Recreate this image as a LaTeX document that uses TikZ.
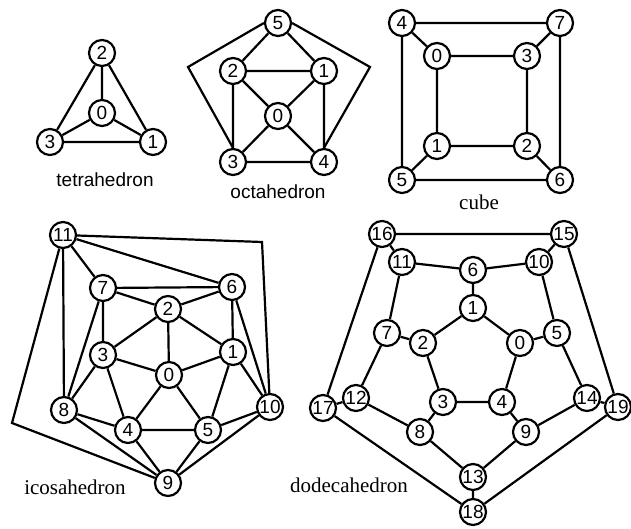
\documentclass[tikz,border=0pt]{standalone}
\usepackage{fontspec}
\setmainfont{Liberation Sans}
\newfontfamily\sansfam{Liberation Sans}
\newfontfamily\seriffam{Liberation Serif}
\begin{document}
\begin{tikzpicture}[x=1pt,y=-1pt,
  v/.style={circle,draw,line width=2.2pt,fill=white,minimum size=26pt,inner sep=0pt,font=\sansfam\fontsize{19}{19}\selectfont},
  e/.style={line width=2.2pt,line join=miter},
  slbl/.style={inner sep=0pt,font=\sansfam\fontsize{19}{19}\selectfont},
  tlbl/.style={inner sep=0pt,font=\seriffam\fontsize{21}{21}\selectfont}]
\useasboundingbox (0,0) rectangle (631,529);
% ---------- tetrahedron
\node[v] (t2) at (102,53) {2};
\node[v] (t0) at (102,113) {0};
\node[v] (t3) at (50,142) {3};
\node[v] (t1) at (153,142) {1};
\node[slbl] (tl) at (105,180) {tetrahedron};
\draw[e] (t2)--(t0) (t2)--(t3) (t2)--(t1) (t0)--(t3) (t0)--(t1) (t3)--(t1);
% ---------- octahedron
\node[v] (o5) at (278,23) {5};
\node[v] (o2) at (233,71) {2};
\node[v] (o1) at (324,71) {1};
\node[v] (o0) at (278,116) {0};
\node[v] (o3) at (233,162) {3};
\node[v] (o4) at (324,162) {4};
\coordinate (oL) at (188,67);
\coordinate (oR) at (370,67);
\node[slbl] (ol) at (278,192) {octahedron};
\draw[e] (o5)--(o2) (o5)--(o1) (o2)--(o1) (o2)--(o0) (o1)--(o0) (o2)--(o3) (o1)--(o4)
  (o3)--(o0) (o4)--(o0) (o3)--(o4);
\draw[e] (o5.west)--(oL)--(o3.north);
\draw[e] (o5.east)--(oR)--(o4.north);
% ---------- cube
\node[v] (c4) at (402,23) {4};
\node[v] (c7) at (560,23) {7};
\node[v] (c0) at (437,56) {0};
\node[v] (c3) at (527,56) {3};
\node[v] (c1) at (437,146) {1};
\node[v] (c2) at (527,146) {2};
\node[v] (c5) at (402,180) {5};
\node[v] (c6) at (560,180) {6};
\node[tlbl] (cl) at (479,202) {cube};
\draw[e] (c4)--(c7) (c4)--(c0) (c4)--(c5) (c7)--(c3) (c7)--(c6) (c0)--(c3) (c0)--(c1)
  (c3)--(c2) (c1)--(c2) (c1)--(c5) (c2)--(c6) (c5)--(c6);
% ---------- icosahedron
\node[v] (i11) at (63,235) {11};
\node[v] (i7) at (103,288) {7};
\node[v] (i6) at (232,287) {6};
\node[v] (i2) at (168,309) {2};
\node[v] (i3) at (103,355) {3};
\node[v] (i1) at (233,352) {1};
\node[v] (i0) at (169,375) {0};
\node[v] (i8) at (64,410) {8};
\node[v] (i10) at (270,407) {10};
\node[v] (i4) at (128,430) {4};
\node[v] (i5) at (208,430) {5};
\node[v] (i9) at (168,483) {9};
\coordinate (iR) at (262,242);
\coordinate (iL) at (12,423);
\node[tlbl] (il) at (75,487) {icosahedron};
\draw[e] (i11)--(i7) (i11)--(i8) (i11)--(i6) (i7)--(i6) (i7)--(i2) (i7)--(i3) (i7)--(i8)
  (i6)--(i2) (i6)--(i1) (i6)--(i10) (i2)--(i3) (i2)--(i0) (i2)--(i1)
  (i3)--(i0) (i3)--(i8) (i3)--(i4) (i1)--(i0) (i1)--(i10) (i1)--(i5)
  (i0)--(i4) (i0)--(i5) (i8)--(i4) (i8)--(i9) (i4)--(i5) (i4)--(i9)
  (i5)--(i10) (i5)--(i9) (i10)--(i9);
\draw[e] (i11)--(iR)--(i10);
\draw[e] (i11)--(iL)--(i9);
% ---------- dodecahedron
\node[v] (d16) at (382,234) {16};
\node[v] (d15) at (564,234) {15};
\node[v] (d11) at (402,262) {11};
\node[v] (d10) at (539,262) {10};
\node[v] (d6) at (473,270) {6};
\node[v] (d1) at (473,308) {1};
\node[v] (d7) at (387,333) {7};
\node[v] (d2) at (423,343) {2};
\node[v] (d0) at (520,343) {0};
\node[v] (d5) at (557,333) {5};
\node[v] (d12) at (356,398) {12};
\node[v] (d17) at (323,408) {17};
\node[v] (d3) at (443,402) {3};
\node[v] (d4) at (502,402) {4};
\node[v] (d14) at (587,398) {14};
\node[v] (d19) at (618,407) {19};
\node[v] (d8) at (420,432) {8};
\node[v] (d9) at (526,432) {9};
\node[v] (d13) at (473,477) {13};
\node[v] (d18) at (473,512) {18};
\node[tlbl] (dl) at (349,485) {dodecahedron};
\draw[e] (d16)--(d15) (d16)--(d11) (d16)--(d17) (d15)--(d10) (d15)--(d19)
  (d11)--(d6) (d11)--(d7) (d10)--(d6) (d10)--(d5) (d6)--(d1) (d1)--(d2) (d1)--(d0)
  (d7)--(d2) (d7)--(d12) (d5)--(d0) (d5)--(d14) (d2)--(d3) (d0)--(d4) (d3)--(d4)
  (d3)--(d8) (d4)--(d9) (d12)--(d17) (d12)--(d8) (d14)--(d19) (d14)--(d9)
  (d8)--(d13) (d9)--(d13) (d13)--(d18) (d17)--(d18) (d19)--(d18);
\end{tikzpicture}
\end{document}
